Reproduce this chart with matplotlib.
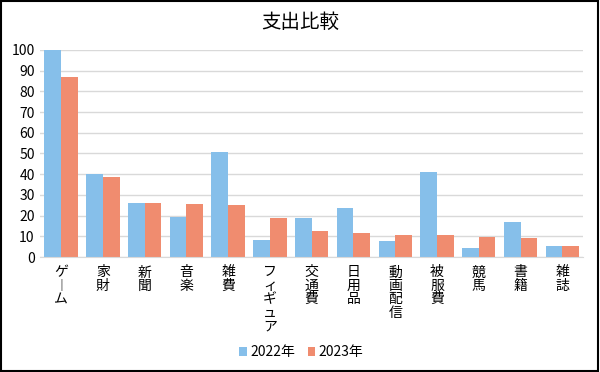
import numpy as np
import matplotlib
matplotlib.use('Agg')
import matplotlib.pyplot as plt
from matplotlib.patches import Rectangle

plt.rcParams['font.family'] = ['Noto Sans CJK JP', 'DejaVu Sans']

# データ
categories = ['ゲーム', '家財', '新聞', '音楽', '雑費', 'フィギュア', '交通費',
              '日用品', '動画配信', '被服費', '競馬', '書籍', '雑誌']
values_2022 = [100, 40, 26, 19.2, 50.6, 8, 18.8, 23.6, 7.6, 41.1, 4.4, 16.9, 5.2]
values_2023 = [87, 38.6, 26, 25.6, 25, 18.8, 12.4, 11.6, 10.7, 10.7, 9.7, 9.4, 5.2]
series_names = ['2022年', '2023年']

blue = '#86BFEA'
orange = '#F08C6F'

fig = plt.figure(figsize=(6, 3.72), dpi=100)
ax = fig.add_axes([0.067, 0.309, 0.905, 0.557])

x = np.arange(len(categories))
w = 0.4
ax.bar(x - w / 2, values_2022, w, color=blue, label=series_names[0])
ax.bar(x + w / 2, values_2023, w, color=orange, label=series_names[1])

ax.set_xlim(-0.5, len(categories) - 0.5)
ax.set_ylim(0, 100)
ax.set_yticks(range(0, 101, 10))
ax.yaxis.grid(True, color='#d9d9d9', linewidth=1)
ax.set_axisbelow(True)
for s in ['top', 'right', 'left']:
    ax.spines[s].set_visible(False)
ax.spines['bottom'].set_color('#d9d9d9')
ax.tick_params(axis='both', length=0, labelsize=10, colors='#000000')
ax.tick_params(axis='y', pad=4)

# 縦書きラベル
vlabels = []
for c in categories:
    vlabels.append('\n'.join(c.replace('ー', '︱')))
ax.set_xticks(x)
ax.set_xticklabels(vlabels, va='top', linespacing=0.95, fontsize=10)
ax.tick_params(axis='x', pad=6)

fig.text(0.5, 0.94, '支出比較', ha='center', va='center', fontsize=14)

leg = fig.legend(loc='center', bbox_to_anchor=(0.502, 0.053), ncol=2, frameon=False,
                 fontsize=10, handlelength=0.55, handleheight=0.55, handletextpad=0.25,
                 columnspacing=0.9)

fig.patches.append(Rectangle((0.002, 0.004), 0.994, 0.992, transform=fig.transFigure,
                             fill=False, edgecolor='black', linewidth=1.5))

fig.savefig('out.png', dpi=100)
plt.close()
